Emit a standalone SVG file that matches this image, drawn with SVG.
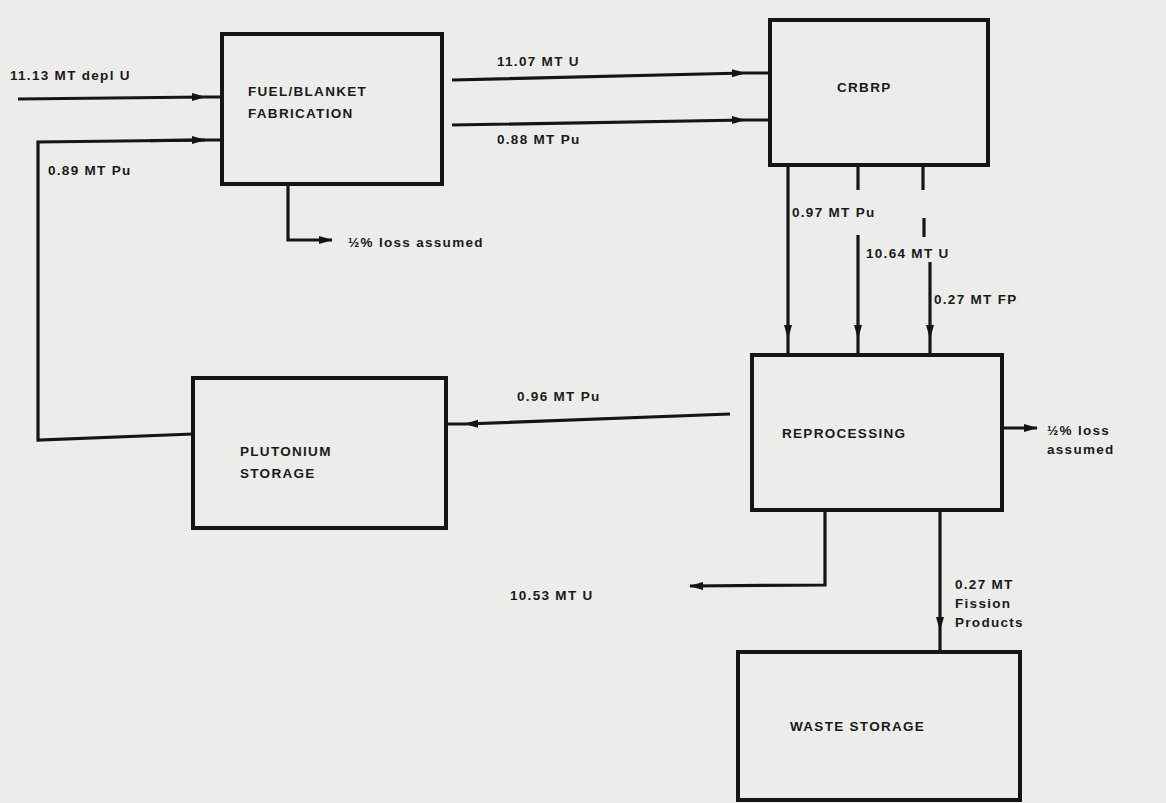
<svg xmlns="http://www.w3.org/2000/svg" width="1166" height="803" viewBox="0 0 1166 803">
<style>
.box{fill:none;stroke:#151515;stroke-width:4}
.ln{fill:none;stroke:#151515;stroke-width:3.2;stroke-linejoin:miter}
.t{font-family:"Liberation Sans",Arial,sans-serif;font-weight:bold;font-size:13.5px;letter-spacing:1.3px;fill:#1a1a1a}
</style>
<defs>
<marker id="ah" viewBox="0 0 14 10" refX="13" refY="5" markerWidth="15" markerHeight="10" markerUnits="userSpaceOnUse" orient="auto">
<path d="M0,1 L14,5 L0,9 Z" fill="#151515"/>
</marker>
</defs>
<rect width="1166" height="803" fill="#ececea"/>

<g id="connectors">
<path class="ln" d="M18,99 L205,97 L222,97" marker-mid="url(#ah)"/>
<path class="ln" d="M193,434 L38,440 L38,142 L205,140"/>
<path class="ln" d="M150,140.7 L205,140 L222,140" marker-mid="url(#ah)"/>
<path class="ln" d="M288,184 L288,240 L332,240" marker-end="url(#ah)"/>
<path class="ln" d="M452,80 L745,73 L768,73" marker-mid="url(#ah)"/>
<path class="ln" d="M452,125 L745,120 L768,120" marker-mid="url(#ah)"/>
<path class="ln" d="M788,165 L788,338 L788,355" marker-mid="url(#ah)"/>
<path class="ln" d="M858,165 L858,190"/>
<path class="ln" d="M858,235 L858,338 L858,355" marker-mid="url(#ah)"/>
<path class="ln" d="M923,165 L923,190"/>
<path class="ln" d="M924,218 L924,237"/>
<path class="ln" d="M930,262 L930,338 L930,355" marker-mid="url(#ah)"/>
<path class="ln" d="M730,414 L465,424 L446,424" marker-mid="url(#ah)"/>
<path class="ln" d="M1002,428 L1037,428" marker-end="url(#ah)"/>
<path class="ln" d="M825,510 L825,585 L690,586" marker-end="url(#ah)"/>
<path class="ln" d="M940,510 L940,630 L940,652" marker-mid="url(#ah)"/>
<text class="t" x="10" y="80">11.13 MT depl U</text>
<text class="t" x="48" y="175">0.89 MT Pu</text>
<text class="t" x="348" y="247">½% loss assumed</text>
<text class="t" x="497" y="66">11.07 MT U</text>
<text class="t" x="497" y="144">0.88 MT Pu</text>
<text class="t" x="792" y="217">0.97 MT Pu</text>
<text class="t" x="866" y="258">10.64 MT U</text>
<text class="t" x="934" y="304">0.27 MT FP</text>
<text class="t" x="517" y="401">0.96 MT Pu</text>
<text class="t" x="1047" y="435">½% loss</text>
<text class="t" x="1047" y="454">assumed</text>
<text class="t" x="510" y="600">10.53 MT U</text>
<text class="t" x="955" y="589">0.27 MT</text>
<text class="t" x="955" y="608">Fission</text>
<text class="t" x="955" y="627">Products</text>
</g>

<g id="fabrication">
<rect class="box" x="222" y="34" width="220" height="150"/>
<text class="t" x="248" y="96">FUEL/BLANKET</text>
<text class="t" x="248" y="118">FABRICATION</text>
</g>
<g id="crbrp">
<rect class="box" x="770" y="20" width="218" height="145"/>
<text class="t" x="837" y="92">CRBRP</text>
</g>
<g id="reprocessing">
<rect class="box" x="752" y="355" width="250" height="155"/>
<text class="t" x="782" y="438">REPROCESSING</text>
</g>
<g id="plutonium-storage">
<rect class="box" x="193" y="378" width="253" height="150"/>
<text class="t" x="240" y="456">PLUTONIUM</text>
<text class="t" x="240" y="478">STORAGE</text>
</g>
<g id="waste-storage">
<rect class="box" x="738" y="652" width="282" height="148"/>
<text class="t" x="790" y="731">WASTE STORAGE</text>
</g>
</svg>
